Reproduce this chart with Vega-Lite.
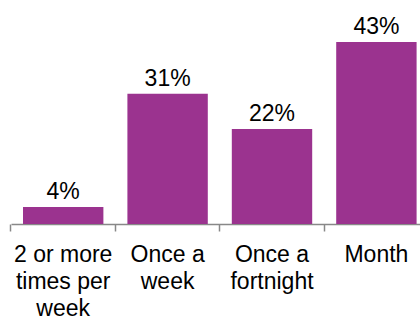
{
  "$schema": "https://vega.github.io/schema/vega-lite/v6.json",
  "width": 409,
  "height": 212,
  "autosize": "none",
  "padding": {"left": 11, "top": 12, "right": 0, "bottom": 96},
  "background": "white",
  "config": {"view": {"stroke": null}, "font": "Liberation Sans"},
  "data": {"values": [
    {"freq": "2 or more times per week", "pct": 4.0, "label": "4%"},
    {"freq": "Once a week", "pct": 30.7, "label": "31%"},
    {"freq": "Once a fortnight", "pct": 22.4, "label": "22%"},
    {"freq": "Month", "pct": 42.9, "label": "43%"}
  ]},
  "encoding": {
    "x": {
      "field": "freq", "type": "nominal", "sort": null,
      "scale": {"range": [0, 417.6], "paddingInner": 0.23, "paddingOuter": 0.115},
      "axis": {
        "title": null,
        "labelAngle": 0,
        "labelFont": "Liberation Sans",
        "labelFontSize": 23,
        "labelLineHeight": 27,
        "labelColor": "#000000",
        "labelPadding": 12,
        "labelLimit": 0,
        "labelExpr": "datum.value == '2 or more times per week' ? ['2 or more', 'times per', 'week'] : datum.value == 'Once a week' ? ['Once a', 'week'] : datum.value == 'Once a fortnight' ? ['Once a', 'fortnight'] : datum.value",
        "domainColor": "#888888",
        "domainWidth": 1.5,
        "tickColor": "#888888",
        "tickWidth": 1.5,
        "tickSize": 7,
        "bandPosition": -0.1494
      }
    },
    "y": {
      "field": "pct", "type": "quantitative",
      "scale": {"domain": [0, 50], "nice": false},
      "axis": null
    }
  },
  "layer": [
    {"mark": {"type": "bar", "color": "#9B338F"}},
    {
      "mark": {"type": "text", "baseline": "alphabetic", "dy": -8, "fontSize": 23, "font": "Liberation Sans", "color": "#000000"},
      "encoding": {"text": {"field": "label"}}
    }
  ]
}
